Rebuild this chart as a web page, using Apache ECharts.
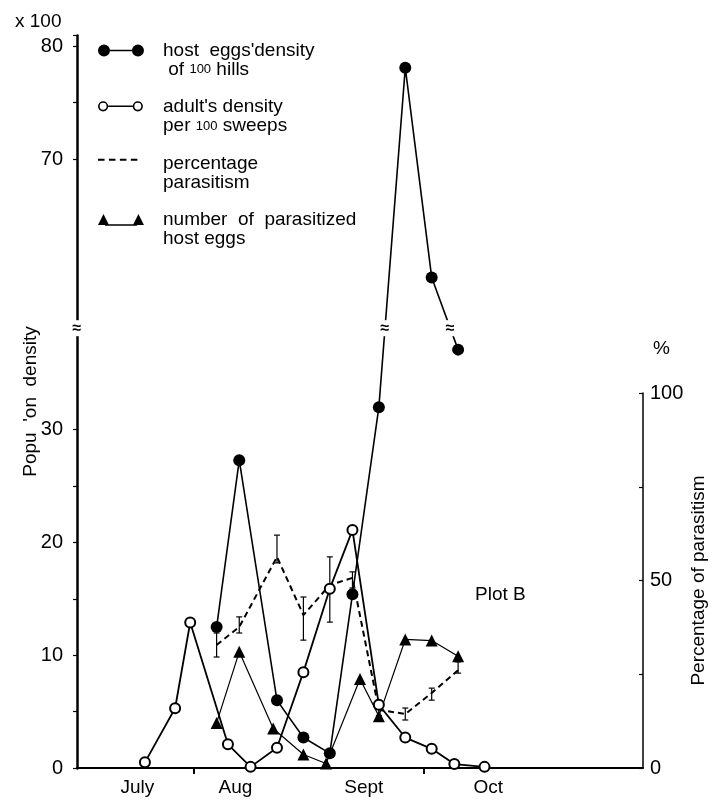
<!DOCTYPE html>
<html>
<head>
<meta charset="utf-8">
<style>
  html, body { margin: 0; padding: 0; background: #fff; }
  #main { width: 714px; height: 802px; }
</style>
<script src="https://cdn.jsdelivr.net/npm/echarts@6/dist/echarts.min.js"></script>
</head>
<body>
<div id="main"></div>
<script>
// days counted from 1 July
const monthNames = ['July', 'Aug', 'Sept', 'Oct'];
const monthLabelDays = [16, 42, 76, 109];
const monthTickDays = [31, 92];

const eggDays = [37, 43, 53, 60, 67, 73, 80, 87, 94, 101];
const eggDensity = [12.5, 27.3, 6.0, 2.7, 1.3, 15.4, 32.0, 78.1, 59.5, 37.1];

const adultDays = [18, 26, 30, 40, 46, 53, 60, 67, 73, 80, 87, 94, 100, 108];
const adultDensity = [0.5, 5.3, 12.9, 2.1, 0.1, 1.8, 8.5, 15.9, 21.1, 5.6, 2.7, 1.7, 0.35, 0.1];

const parasitizedDays = [37, 43, 52, 60, 66, 75, 80, 87, 94, 101];
const parasitizedEggs = [4.0, 10.3, 3.5, 1.2, 0.4, 7.9, 4.6, 11.4, 11.3, 9.9];

const pctDays = [37, 43, 53, 60, 67, 73, 80, 87, 94, 101];
const pctParasitism = [32.8, 37.6, 56.3, 40.8, 48.8, 50.7, 15.5, 14.4, 20.0, 26.1];
const pctLow = [29.6, 36.0, 54.7, 34.1, 38.9, 48.0, 14.0, 12.8, 18.1, 25.3];
const pctHigh = [36.0, 40.3, 62.1, 45.6, 56.3, 52.3, 17.0, 16.0, 21.3, 28.3];

const leftTicks = [0, 10, 20, 30, 60, 70, 80];
const rightTicks = [0, 50, 100];
const densityBreak = { start: 39, end: 55 };

const FONT = '"Liberation Sans", Arial, sans-serif';

const NAME_EGGS = "host eggs'density of 100 hills";
const NAME_ADULTS = "adult's density per 100 sweeps";
const NAME_PCT = 'percentage parasitism';
const NAME_PARA = 'number of parasitized host eggs';

const legendText = {
  [NAME_EGGS]: "host  eggs'density\n of {s|100} hills",
  [NAME_ADULTS]: "adult's density\nper {s|100} sweeps",
  [NAME_PCT]: 'percentage\nparasitism',
  [NAME_PARA]: 'number  of  parasitized\nhost eggs'
};

// legend icons: symbol drawn in the top strip, a tiny dot keeps the box tall
const PAD = ' M46,30.9h0.05v0.05h-0.05Z';
const iconFilled = 'path://M0,6A6,6,0,1,1,12,6A6,6,0,1,1,0,6Z M12,5.3H34V6.7H12Z M34,6A6,6,0,1,1,46,6A6,6,0,1,1,34,6Z' + PAD;
const iconOpen = 'path://M1,6A5,5,0,1,1,11,6A5,5,0,1,1,1,6Z M2.6,6A3.4,3.4,0,1,0,9.4,6A3.4,3.4,0,1,0,2.6,6Z M11,5.3H35V6.7H11Z M35,6A5,5,0,1,1,45,6A5,5,0,1,1,35,6Z M36.6,6A3.4,3.4,0,1,0,43.4,6A3.4,3.4,0,1,0,36.6,6Z' + PAD;
const iconDash = 'path://M4,5.1H10V6.9H4Z M14,5.1H20V6.9H14Z M24,5.1H30V6.9H24Z M34,5.1H40V6.9H34Z' + PAD;
const iconTri = 'path://M0,11L5.5,0L11,11Z M7,10.2H39V11.6H7Z M35,11L40.5,0L46,11Z' + PAD;

function zip(xs, ys) {
  return xs.map((x, i) => [x, ys[i]]);
}

function renderErrorBar(params, api) {
  const x = api.value(0);
  const lo = api.coord([x, api.value(1)]);
  const hi = api.coord([x, api.value(2)]);
  const cap = 3;
  const style = { stroke: '#000', lineWidth: 1.2 };
  return {
    type: 'group',
    children: [
      { type: 'line', shape: { x1: lo[0], y1: lo[1], x2: hi[0], y2: hi[1] }, style },
      { type: 'line', shape: { x1: lo[0] - cap, y1: lo[1], x2: lo[0] + cap, y2: lo[1] }, style },
      { type: 'line', shape: { x1: hi[0] - cap, y1: hi[1], x2: hi[0] + cap, y2: hi[1] }, style }
    ]
  };
}

const chart = echarts.init(document.getElementById('main'), null, { renderer: 'canvas' });

const option = {
  animation: false,
  backgroundColor: '#fff',
  textStyle: { fontFamily: FONT, color: '#000' },
  title: [
    { text: 'x 100', left: 10, top: 7, textStyle: { fontFamily: FONT, fontSize: 19, fontWeight: 'normal', color: '#000' } },
    { text: 'Plot B', left: 470, top: 580, textStyle: { fontFamily: FONT, fontSize: 19, fontWeight: 'normal', color: '#000' } },
    { text: '%', left: 648, top: 334, textStyle: { fontFamily: FONT, fontSize: 19, fontWeight: 'normal', color: '#000' } }
  ],
  legend: {
    orient: 'vertical',
    left: 93,
    top: 36,
    itemWidth: 46,
    itemHeight: 31,
    itemGap: 18.5,
    selectedMode: false,
    data: [
      { name: NAME_EGGS, icon: iconFilled },
      { name: NAME_ADULTS, icon: iconOpen },
      { name: NAME_PCT, icon: iconDash },
      { name: NAME_PARA, icon: iconTri }
    ],
    itemStyle: { color: '#000', borderWidth: 0 },
    formatter: (name) => legendText[name],
    textStyle: {
      fontFamily: FONT,
      fontSize: 19,
      lineHeight: 19,
      color: '#000',
      padding: [0, 0, 0, 14],
      rich: { s: { fontFamily: FONT, fontSize: 13, color: '#000' } }
    }
  },
  grid: [
    { left: 77, right: 71, top: 35, bottom: 34, outerBoundsMode: 'none' },
    { left: 77, right: 71, top: 393, bottom: 34, outerBoundsMode: 'none' }
  ],
  xAxis: [
    {
      type: 'value',
      gridIndex: 0,
      min: 0,
      max: 150,
      axisLine: { show: true, lineStyle: { color: '#000', width: 2 } },
      axisTick: { show: true, customValues: monthTickDays, length: 6, lineStyle: { color: '#000', width: 2 } },
      axisLabel: {
        customValues: monthLabelDays,
        formatter: (v) => monthNames[monthLabelDays.indexOf(v)] || '',
        color: '#000',
        fontFamily: FONT,
        fontSize: 19,
        margin: 10
      },
      splitLine: { show: false }
    },
    {
      type: 'value',
      gridIndex: 1,
      min: 0,
      max: 150,
      show: false
    }
  ],
  yAxis: [
    {
      type: 'value',
      gridIndex: 0,
      min: 0,
      max: 81,
      interval: 10,
      breaks: [{ start: densityBreak.start, end: densityBreak.end, gap: 0 }],
      breakArea: { show: false },
      name: "Popu  'on  density",
      nameLocation: 'middle',
      nameGap: 37,
      nameRotate: 90,
      nameMoveOverlap: false,
      nameTextStyle: { fontFamily: FONT, fontSize: 19, color: '#000' },
      axisLine: { show: true, onZero: false, lineStyle: { color: '#000', width: 2.5 } },
      axisTick: { show: true, length: 4, lineStyle: { color: '#000', width: 1.2 } },
      minorTick: { show: true, splitNumber: 2, length: 4, lineStyle: { color: '#000', width: 1.2 } },
      axisLabel: {
        formatter: (v) => (leftTicks.includes(v) ? String(v) : ''),
        color: '#000',
        fontFamily: FONT,
        fontSize: 20,
        margin: 14
      },
      splitLine: { show: false }
    },
    {
      type: 'value',
      gridIndex: 1,
      position: 'right',
      min: 0,
      max: 100,
      interval: 25,
      name: 'Percentage of parasitism',
      nameLocation: 'middle',
      nameGap: 46,
      nameRotate: 90,
      nameMoveOverlap: false,
      nameTextStyle: { fontFamily: FONT, fontSize: 19, color: '#000' },
      axisLine: { show: true, onZero: false, lineStyle: { color: '#000', width: 1.5 } },
      axisTick: { show: true, inside: true, length: 4, lineStyle: { color: '#000', width: 1.2 } },
      axisLabel: {
        formatter: (v) => (rightTicks.includes(v) ? String(v) : ''),
        color: '#000',
        fontFamily: FONT,
        fontSize: 20,
        margin: 7
      },
      splitLine: { show: false }
    }
  ],
  series: [
    {
      name: NAME_EGGS,
      type: 'line',
      xAxisIndex: 0,
      yAxisIndex: 0,
      data: zip(eggDays, eggDensity),
      symbol: 'circle',
      symbolSize: 12,
      itemStyle: { color: '#000' },
      lineStyle: { color: '#000', width: 1.6 },
      z: 4
    },
    {
      name: NAME_ADULTS,
      type: 'line',
      xAxisIndex: 0,
      yAxisIndex: 0,
      data: zip(adultDays, adultDensity),
      symbol: 'emptyCircle',
      symbolSize: 10,
      itemStyle: { color: '#000', borderColor: '#000', borderWidth: 1.5 },
      lineStyle: { color: '#000', width: 1.8 },
      z: 5
    },
    {
      name: NAME_PCT,
      type: 'line',
      xAxisIndex: 1,
      yAxisIndex: 1,
      data: zip(pctDays, pctParasitism),
      symbol: 'none',
      itemStyle: { color: '#000' },
      lineStyle: { color: '#000', width: 2, type: [6, 4] },
      z: 3
    },
    {
      name: 'error',
      type: 'custom',
      xAxisIndex: 1,
      yAxisIndex: 1,
      data: pctDays.map((d, i) => [d, pctLow[i], pctHigh[i]]),
      encode: { x: 0, y: [1, 2] },
      renderItem: renderErrorBar,
      z: 3
    },
    {
      name: NAME_PARA,
      type: 'line',
      xAxisIndex: 0,
      yAxisIndex: 0,
      data: zip(parasitizedDays, parasitizedEggs),
      symbol: 'triangle',
      symbolSize: 12,
      itemStyle: { color: '#000' },
      lineStyle: { color: '#000', width: 1.2 },
      z: 4
    }
  ]
};

chart.setOption(option);

// small "≈" marks where the broken density scale is crossed
function breakMarks() {
  const yBreak = chart.convertToPixel({ yAxisIndex: 0 }, densityBreak.start);
  const left = chart.convertToPixel({ xAxisIndex: 0 }, 0);
  const marks = [[left, yBreak]];
  for (let i = 1; i < eggDays.length; i++) {
    const a = chart.convertToPixel({ xAxisIndex: 0, yAxisIndex: 0 }, [eggDays[i - 1], eggDensity[i - 1]]);
    const b = chart.convertToPixel({ xAxisIndex: 0, yAxisIndex: 0 }, [eggDays[i], eggDensity[i]]);
    if ((a[1] - yBreak) * (b[1] - yBreak) < 0) {
      const t = (yBreak - a[1]) / (b[1] - a[1]);
      marks.push([a[0] + t * (b[0] - a[0]), yBreak]);
    }
  }
  return marks.map((p) => ({
    type: 'text',
    x: p[0],
    y: p[1],
    z: 10,
    style: {
      text: '≈',
      fontFamily: FONT,
      fontSize: 16,
      fontWeight: 'bold',
      fill: '#000',
      align: 'center',
      verticalAlign: 'middle',
      backgroundColor: '#fff'
    }
  }));
}

chart.setOption({ graphic: breakMarks() });
</script>
</body>
</html>
